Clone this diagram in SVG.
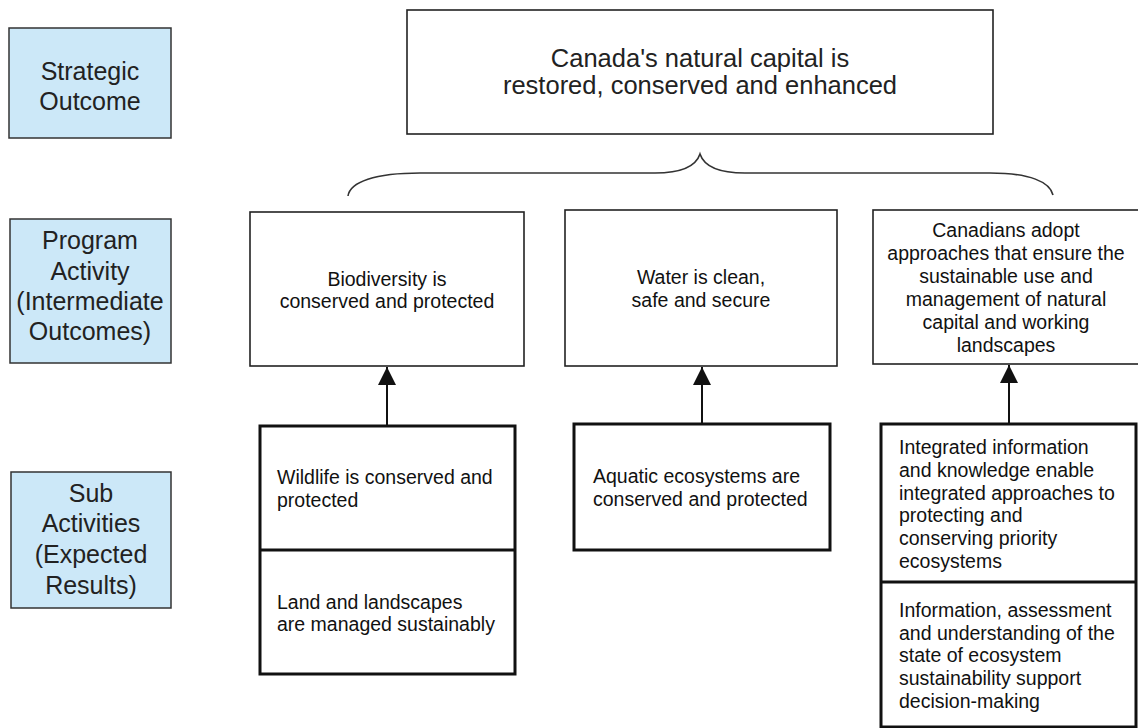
<svg xmlns="http://www.w3.org/2000/svg" width="1138" height="728" viewBox="0 0 1138 728">
<defs>
<style>
.lab{fill:#cce8f8;stroke:#333;stroke-width:1.5}
.box{fill:#fff;stroke:#222;stroke-width:1.6}
.sub{fill:#fff;stroke:#111;stroke-width:3}
.lt{font-family:"Liberation Sans",Arial,sans-serif;font-size:25px;fill:#222;text-anchor:middle}
.tt{font-family:"Liberation Sans",Arial,sans-serif;font-size:25.5px;fill:#222;text-anchor:middle}
.ct{font-family:"Liberation Sans",Arial,sans-serif;font-size:19.5px;fill:#111;text-anchor:middle}
.st{font-family:"Liberation Sans",Arial,sans-serif;font-size:19.5px;fill:#111}
.edge{stroke:#111;stroke-width:2;fill:none}
.brace{stroke:#333;stroke-width:1.6;fill:none}
</style>
<marker id="ah" viewBox="0 0 10 10" refX="10" refY="5" markerWidth="9" markerHeight="9" markerUnits="userSpaceOnUse" orient="auto">
<path d="M0,0 L10,5 L0,10 z" fill="#111"/>
</marker>
<marker id="arr" viewBox="0 0 18 18" refX="18" refY="9" markerWidth="18" markerHeight="18" markerUnits="userSpaceOnUse" orient="auto">
<path d="M0,0 L18,9 L0,18 z" fill="#111"/>
</marker>
</defs>
<rect width="1138" height="728" fill="#fff"/>

<g id="label-strategic">
<rect class="lab" x="9" y="28" width="162" height="110"/>
<text class="lt" x="90" y="80">Strategic</text>
<text class="lt" x="90" y="110">Outcome</text>
</g>
<g id="label-program">
<rect class="lab" x="10" y="219" width="161" height="144"/>
<text class="lt" x="90" y="249">Program</text>
<text class="lt" x="90" y="280">Activity</text>
<text class="lt" x="90" y="310">(Intermediate</text>
<text class="lt" x="90" y="340">Outcomes)</text>
</g>
<g id="label-sub">
<rect class="lab" x="11" y="472" width="160" height="136"/>
<text class="lt" x="91" y="502">Sub</text>
<text class="lt" x="91" y="532">Activities</text>
<text class="lt" x="91" y="563">(Expected</text>
<text class="lt" x="91" y="594">Results)</text>
</g>

<g id="strategic-outcome">
<rect class="box" x="407" y="10" width="586" height="124"/>
<text class="tt" x="700" y="67">Canada's natural capital is</text>
<text class="tt" x="700" y="94">restored, conserved and enhanced</text>
</g>

<g id="biodiversity">
<rect class="box" x="250" y="212" width="274" height="154"/>
<text class="ct" x="387" y="286">Biodiversity is</text>
<text class="ct" x="387" y="308">conserved and protected</text>
</g>
<g id="water">
<rect class="box" x="565" y="210" width="272" height="156"/>
<text class="ct" x="701" y="284">Water is clean,</text>
<text class="ct" x="701" y="307">safe and secure</text>
</g>
<g id="canadians">
<rect class="box" x="873" y="210" width="280" height="154"/>
<text class="ct" x="1006" y="237">Canadians adopt</text>
<text class="ct" x="1006" y="260">approaches that ensure the</text>
<text class="ct" x="1006" y="283">sustainable use and</text>
<text class="ct" x="1006" y="306">management of natural</text>
<text class="ct" x="1006" y="329">capital and working</text>
<text class="ct" x="1006" y="352">landscapes</text>
</g>

<g id="wildlife-land">
<rect class="sub" x="260" y="426" width="255" height="248"/>
<line x1="260" y1="550" x2="515" y2="550" stroke="#111" stroke-width="3"/>
<text class="st" x="277" y="484">Wildlife is conserved and</text>
<text class="st" x="277" y="507">protected</text>
<text class="st" x="277" y="609">Land and landscapes</text>
<text class="st" x="277" y="631">are managed sustainably</text>
</g>
<g id="aquatic">
<rect class="sub" x="574" y="424" width="256" height="126"/>
<text class="st" x="593" y="483">Aquatic ecosystems are</text>
<text class="st" x="593" y="506">conserved and protected</text>
</g>
<g id="integrated-information">
<rect class="sub" x="881" y="424" width="255" height="303"/>
<line x1="881" y1="582" x2="1136" y2="582" stroke="#111" stroke-width="3"/>
<text class="st" x="899" y="454">Integrated information</text>
<text class="st" x="899" y="477">and knowledge enable</text>
<text class="st" x="899" y="500">integrated approaches to</text>
<text class="st" x="899" y="522">protecting and</text>
<text class="st" x="899" y="545">conserving priority</text>
<text class="st" x="899" y="568">ecosystems</text>
<text class="st" x="899" y="617">Information, assessment</text>
<text class="st" x="899" y="640">and understanding of the</text>
<text class="st" x="899" y="662">state of ecosystem</text>
<text class="st" x="899" y="685">sustainability support</text>
<text class="st" x="899" y="708">decision-making</text>
</g>

<g id="connectors">
<path class="brace" d="M348,196 C350,182 375,173 420,173 L655,173 C682,173 696,166 700,154 C704,166 718,173 745,173 L990,173 C1030,173 1050,182 1053,195"/>
<line class="edge" x1="387" y1="426" x2="387" y2="367" marker-end="url(#arr)"/>
<line class="edge" x1="702" y1="424" x2="702" y2="367" marker-end="url(#arr)"/>
<line class="edge" x1="1009" y1="424" x2="1009" y2="365" marker-end="url(#arr)"/>
</g>
</svg>
